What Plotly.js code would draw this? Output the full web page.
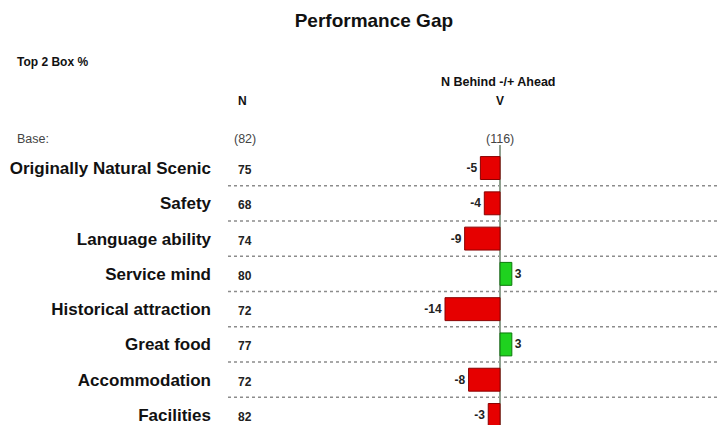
<!DOCTYPE html>
<html>
<head>
<meta charset="utf-8">
<script src="https://cdn.plot.ly/plotly-3.0.1.min.js"></script>
<style>html,body{margin:0;padding:0;background:#fff;}#chart{width:719px;height:425px;}</style>
</head>
<body>
<div id="chart"></div>
<script>
const categories = ["Originally Natural Scenic","Safety","Language ability","Service mind","Historical attraction","Great food","Accommodation","Facilities"];
const nValues = [75, 68, 74, 80, 72, 77, 72, 82];
const gapValues = [-5, -4, -9, 3, -14, 3, -8, -3];
const baseN = "(82)";
const baseGap = "(116)";

const FONT = "Arial, 'Liberation Sans', sans-serif";
const fillColors = gapValues.map(v => v < 0 ? "#e60000" : "#1fd21f");
const lineColors = gapValues.map(v => v < 0 ? "#8a0000" : "#0b7a0b");

const trace = {
  type: "bar",
  orientation: "h",
  y: categories,
  x: gapValues,
  width: 0.65,
  marker: {color: fillColors, line: {color: lineColors, width: 1}},
  text: gapValues.map(String),
  textposition: "outside",
  textfont: {family: FONT, size: 12, color: "#222", weight: "bold"},
  cliponaxis: false,
  hoverinfo: "skip"
};

const shapes = categories.slice(0, -1).map((c, i) => ({
  type: "line", xref: "paper", yref: "y", x0: 0, x1: 1, y0: i + 0.5, y1: i + 0.5,
  line: {color: "#8c8c8c", width: 1.5, dash: "dot"}, layer: "below"
}));

const annotations = [
  {text: "<b>Top 2 Box %</b>", xref: "paper", yref: "paper", x: -0.434, y: 1.296, xanchor: "left", yanchor: "middle", showarrow: false, font: {family: FONT, size: 12, color: "#111"}},
  {text: "<b>N</b>", xref: "paper", yref: "paper", x: 0.0305, y: 1.157, xanchor: "center", yanchor: "middle", showarrow: false, font: {family: FONT, size: 12, color: "#111"}},
  {text: "<b>N Behind -/+ Ahead</b>", xref: "x", yref: "paper", x: -0.5, y: 1.225, xanchor: "center", yanchor: "middle", showarrow: false, font: {family: FONT, size: 12.5, color: "#111"}},
  {text: "<b>V</b>", xref: "x", yref: "paper", x: 0, y: 1.157, xanchor: "center", yanchor: "middle", showarrow: false, font: {family: FONT, size: 12, color: "#111"}},
  {text: "Base:", xref: "paper", yref: "paper", x: -0.434, y: 1.021, xanchor: "left", yanchor: "middle", showarrow: false, font: {family: FONT, size: 12.5, color: "#444"}},
  {text: baseN, xref: "paper", yref: "paper", x: 0.0346, y: 1.021, xanchor: "center", yanchor: "middle", showarrow: false, font: {family: FONT, size: 12.5, color: "#444"}},
  {text: baseGap, xref: "x", yref: "paper", x: 0, y: 1.021, xanchor: "center", yanchor: "middle", showarrow: false, font: {family: FONT, size: 12.5, color: "#444"}}
].concat(categories.map((c, i) => ({
  text: "<b>" + nValues[i] + "</b>", xref: "paper", yref: "y", x: 0.0346, y: c, yshift: -2,
  xanchor: "center", yanchor: "middle", showarrow: false, font: {family: FONT, size: 12, color: "#222"}
})));

const layout = {
  width: 719, height: 425,
  margin: {l: 228, r: 0, t: 145, b: 0, pad: 0},
  paper_bgcolor: "#fff", plot_bgcolor: "#fff",
  title: {text: "<b>Performance Gap</b>", xref: "container", yref: "container", x: 0.52, y: 0.953, xanchor: "center", yanchor: "middle", font: {family: FONT, size: 19, color: "#111"}},
  showlegend: false,
  xaxis: {range: [-69.2, 55.7], showgrid: false, showticklabels: false, ticks: "", zeroline: true, zerolinecolor: "#8fa08f", zerolinewidth: 1.5, showline: false, fixedrange: true},
  yaxis: {type: "category", range: [7.284, -0.653], showgrid: false, zeroline: false, showline: false, ticks: "", ticklabelstandoff: 16, tickfont: {family: FONT, size: 17, color: "#111", weight: "bold"}, fixedrange: true},
  shapes: shapes,
  annotations: annotations,
  font: {family: FONT}
};

Plotly.newPlot("chart", [trace], layout, {displayModeBar: false, staticPlot: true});
</script>
</body>
</html>
